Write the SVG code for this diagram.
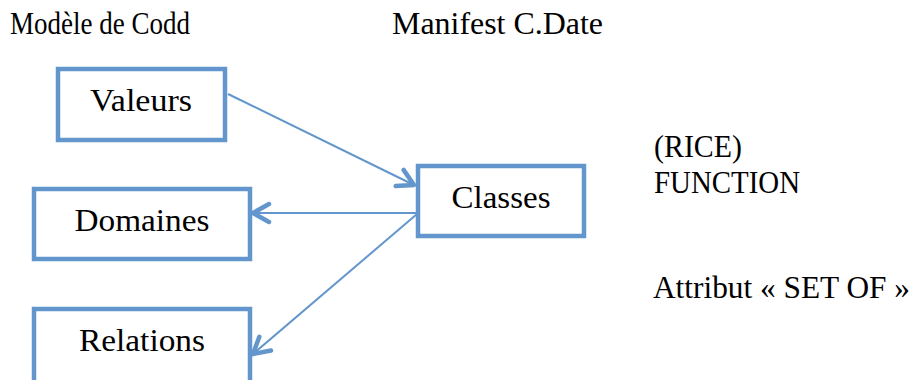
<svg xmlns="http://www.w3.org/2000/svg" width="914" height="380" viewBox="0 0 914 380">
<style>
text{font-family:"Liberation Serif","DejaVu Serif",serif;font-size:31px;fill:#000}
.box{fill:#fff;stroke:#6396cc;stroke-width:4.5}
.ln{stroke:#6396cc;stroke-width:2;fill:none}
</style>
<defs>
<marker id="ah" markerUnits="userSpaceOnUse" markerWidth="30" markerHeight="30" refX="20" refY="12" orient="auto" viewBox="0 0 30 24">
<path d="M4,3 L20,12 L4,21" fill="none" stroke="#6396cc" stroke-width="4.5" stroke-linecap="round" stroke-linejoin="round"/>
</marker>
</defs>
<rect width="914" height="380" fill="#fff"/>
<text x="10" y="34" textLength="180" lengthAdjust="spacingAndGlyphs">Modèle de Codd</text>
<text x="392" y="34" textLength="211" lengthAdjust="spacingAndGlyphs">Manifest C.Date</text>
<g id="connectors">
<line class="ln" x1="228" y1="94" x2="414" y2="185" marker-end="url(#ah)"/>
<line class="ln" x1="417" y1="213" x2="253" y2="213" marker-end="url(#ah)"/>
<line class="ln" x1="417" y1="214" x2="253" y2="354" marker-end="url(#ah)"/>
</g>
<g id="valeurs">
<rect class="box" x="58" y="69" width="167" height="71"/>
<text x="141" y="111" text-anchor="middle" textLength="102" lengthAdjust="spacingAndGlyphs">Valeurs</text>
</g>
<g id="classes">
<rect class="box" x="418" y="166" width="166" height="70"/>
<text x="501" y="208" text-anchor="middle" textLength="99" lengthAdjust="spacingAndGlyphs">Classes</text>
</g>
<g id="domaines">
<rect class="box" x="34" y="189" width="216" height="70"/>
<text x="142" y="231" text-anchor="middle" textLength="135" lengthAdjust="spacingAndGlyphs">Domaines</text>
</g>
<g id="relations">
<rect class="box" x="34" y="309" width="216" height="90"/>
<text x="142" y="351" text-anchor="middle" textLength="126" lengthAdjust="spacingAndGlyphs">Relations</text>
</g>
<text x="654" y="157" textLength="88" lengthAdjust="spacingAndGlyphs">(RICE)</text>
<text x="654" y="193" textLength="146" lengthAdjust="spacingAndGlyphs">FUNCTION</text>
<text x="653" y="298" textLength="257" lengthAdjust="spacingAndGlyphs">Attribut « SET OF »</text>
</svg>
